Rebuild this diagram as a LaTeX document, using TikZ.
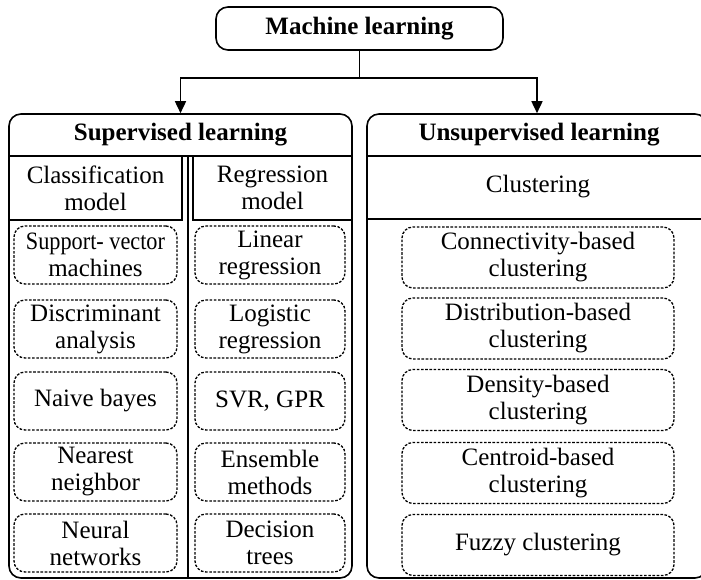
\documentclass[tikz,border=0pt]{standalone}
\usepackage{fontspec}
\setmainfont{Liberation Serif}
\usetikzlibrary{arrows.meta}

\begin{document}
\begin{tikzpicture}[x=1pt,y=-1pt,
  every node/.style={font=\fontsize{25}{27}\selectfont},
  solidline/.style={line width=1.6pt},
  bigbox/.style={draw, line width=1.6pt, rounded corners=12pt, inner sep=0pt},
  cell/.style={draw, line width=1.6pt, inner sep=0pt, align=center},
  item/.style={draw, line width=1.3pt, dash pattern=on 2.6pt off 1.6pt,
               rounded corners=11pt, inner sep=0pt, align=center},
  arr/.style={line width=1.6pt, -{Triangle[width=11pt,length=12pt]}},
  head/.style={font=\fontsize{25}{27}\selectfont\bfseries}
]
\clip (0,0) rectangle (701,580);

% root
\node[bigbox, minimum width=287pt, minimum height=43pt, head]
  (ml) at (359.5,28.5) {Machine learning};

% the two main branches
\node[bigbox, minimum width=343pt, minimum height=464pt] (sup) at (180.5,346) {};
\node[bigbox, minimum width=340pt, minimum height=464pt] (unsup) at (537,346) {};

\coordinate (split) at (359.5,78);
\draw[solidline] (ml.south) -- (split);
\draw[arr] (split) -| (sup.north);
\draw[arr] (split) -| (unsup.north);

% headers
\node[head] (suph) at (180.5,135) {Supervised learning};
\node[head] (unsuph) at (539,135) {Unsupervised learning};
\coordinate (sl) at (9,156);  \coordinate (sr) at (352,156);
\coordinate (ul) at (367,156); \coordinate (ur) at (707,156);
\draw[solidline] (sl) -- (sr);
\draw[solidline] (ul) -- (ur);

% supervised: two model columns
\node[cell, minimum width=173pt, minimum height=64pt] (cls) at (95.5,188)
  {Classification\\model};
\node[cell, minimum width=159pt, minimum height=64pt] (reg) at (272.5,188)
  {Regression\\model};
\coordinate (divtop) at (188,156);
\coordinate (divbot) at (188,578);
\draw[solidline] (divtop) -- (divbot);

% unsupervised: clustering band
\node (clu) at (538,187) {Clustering};
\coordinate (cl) at (367,219); \coordinate (cr) at (707,219);
\draw[solidline] (cl) -- (cr);

% classification methods
\node[item, minimum width=163pt, minimum height=58pt] (svm) at (95.5,255) {\scalebox{0.89}[1]{Support- vector}\\machines};
\node[item, minimum width=163pt, minimum height=58pt] (da)  at (95.5,329) {Discriminant\\analysis};
\node[item, minimum width=163pt, minimum height=58pt] (nb)  at (95.5,401) {Naive bayes};
\node[item, minimum width=163pt, minimum height=58pt] (nn)  at (95.5,472) {Nearest\\neighbor};
\node[item, minimum width=163pt, minimum height=58pt] (neu) at (95.5,543) {Neural\\networks};

% regression methods
\node[item, minimum width=150pt, minimum height=58pt] (lin) at (270,255) {Linear\\regression};
\node[item, minimum width=150pt, minimum height=58pt] (log) at (270,329) {Logistic\\regression};
\node[item, minimum width=150pt, minimum height=58pt] (svr) at (270,401) {SVR, GPR};
\node[item, minimum width=150pt, minimum height=58pt] (ens) at (270,472) {Ensemble\\methods};
\node[item, minimum width=150pt, minimum height=58pt] (dt)  at (270,543) {Decision\\trees};

% clustering methods
\node[item, minimum width=272pt, minimum height=61pt] (con) at (538,257.5) {Connectivity-based\\clustering};
\node[item, minimum width=272pt, minimum height=61pt] (dis) at (538,328.5) {Distribution-based\\clustering};
\node[item, minimum width=272pt, minimum height=61pt] (den) at (538,400) {Density-based\\clustering};
\node[item, minimum width=272pt, minimum height=61pt] (cen) at (538,473) {Centroid-based\\clustering};
\node[item, minimum width=272pt, minimum height=61pt] (fuz) at (538,545) {Fuzzy clustering};
\end{tikzpicture}
\end{document}
